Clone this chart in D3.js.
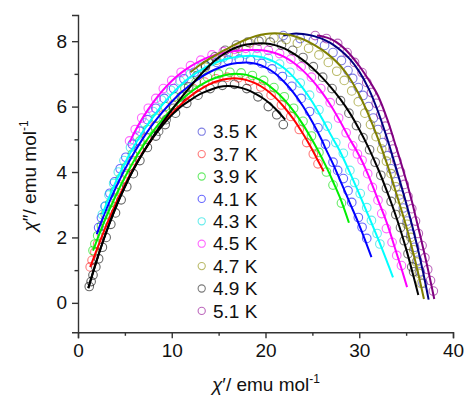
<!DOCTYPE html>
<html><head><meta charset="utf-8">
<script src="https://cdn.jsdelivr.net/npm/d3@7"></script>
<style>body{margin:0;background:#fff}svg{display:block}</style>
</head><body><svg id="c" width="465" height="396"></svg>
<script>
const tempLabels = ["3.5 K","3.7 K","3.9 K","4.1 K","4.3 K","4.5 K","4.7 K","4.9 K","5.1 K"];
const xTicks = [0,10,20,30,40];
const yTicks = [0,2,4,6,8];
const xMinor = [5,15,25,35];
const yMinor = [1,3,5,7];

// data points (chi', chi'')
const circ35 = [[21.9,8.17],[23.7,8.08],[25.1,8.02],[26.3,7.87],[27.2,7.65],[28.1,7.41],[28.8,7.1],[29.3,6.86],[29.9,6.58],[30.4,6.34],[31.0,6.0],[31.5,5.65],[32.0,5.3],[32.5,4.9],[33.0,4.5],[33.4,4.1],[33.9,3.7],[34.3,3.3],[34.7,2.9],[35.1,2.5],[35.5,2.1],[35.9,1.7],[36.2,1.3],[36.5,0.95],[36.8,0.6]];
const circ37 = [[1.3,1.1],[1.5,1.3],[1.8,1.55],[2.1,1.8],[2.5,2.1],[2.9,2.45],[3.4,2.85],[3.9,3.2],[4.5,3.6],[5.1,3.95],[5.8,4.35],[6.5,4.7],[7.3,5.05],[8.2,5.4],[9.1,5.75],[10.1,6.05],[11.2,6.35],[12.3,6.55],[13.5,6.75],[14.7,6.85],[15.9,6.9],[17.1,6.88],[18.3,6.78],[19.5,6.6],[20.6,6.35],[21.7,6.05],[22.7,5.7],[23.6,5.3],[24.4,4.9],[25.1,4.55],[25.6,4.25]];
const circ39 = [[1.6,1.6],[1.8,1.8],[2.1,2.05],[2.5,2.35],[2.9,2.7],[3.4,3.05],[3.9,3.4],[4.5,3.8],[5.1,4.15],[5.8,4.55],[6.6,4.95],[7.4,5.3],[8.3,5.65],[9.3,6.0],[10.3,6.3],[11.4,6.55],[12.6,6.75],[13.8,6.9],[15.0,7.0],[16.2,7.05],[17.4,7.03],[18.6,6.95],[19.8,6.8],[20.9,6.58],[22.0,6.3],[23.0,5.95],[24.0,5.55],[24.9,5.1],[25.7,4.6],[26.5,4.0],[27.2,3.6],[28.1,3.05]];
const circ41 = [[2.2,2.3],[2.5,2.6],[2.9,2.95],[3.4,3.35],[3.9,3.7],[4.5,4.1],[5.1,4.45],[5.8,4.85],[6.6,5.25],[7.4,5.6],[8.3,5.95],[9.2,6.25],[10.2,6.55],[11.3,6.85],[12.4,7.05],[13.6,7.25],[14.8,7.35],[16.0,7.42],[17.2,7.45],[18.4,7.42],[19.6,7.32],[20.7,7.15],[21.8,6.92],[22.8,6.62],[23.8,6.25],[24.7,5.85],[25.6,5.35],[26.4,4.85],[27.2,4.3],[27.7,4.05],[28.3,3.8],[28.8,3.43],[29.2,3.07],[29.9,2.61],[30.3,2.31],[30.8,1.97]];
const circ43 = [[2.6,2.7],[2.9,2.95],[3.3,3.3],[3.8,3.65],[4.3,4.0],[4.9,4.35],[5.6,4.75],[6.3,5.1],[7.1,5.5],[8.0,5.85],[8.9,6.2],[9.9,6.5],[10.9,6.78],[12.0,7.0],[13.1,7.2],[14.3,7.38],[15.5,7.5],[16.7,7.58],[17.9,7.6],[19.1,7.57],[20.3,7.48],[21.5,7.3],[22.6,7.05],[23.7,6.72],[24.7,6.35],[25.7,5.9],[26.6,5.4],[27.5,4.9],[28.3,4.57],[29.0,4.05],[29.5,3.68],[30.1,3.34],[30.8,2.91],[31.3,2.52],[31.9,2.12],[32.2,1.8]];
const circ45 = [[5.5,4.95],[6.1,5.3],[6.8,5.65],[7.5,5.95],[8.3,6.25],[9.1,6.55],[10.0,6.8],[11.0,7.05],[12.0,7.25],[13.1,7.42],[14.3,7.58],[15.5,7.68],[16.7,7.75],[17.9,7.78],[19.1,7.78],[20.3,7.72],[21.5,7.62],[22.7,7.45],[23.8,7.22],[24.9,6.9],[25.9,6.55],[26.9,6.12],[27.8,5.65],[28.6,5.2],[29.3,4.8],[29.8,4.55],[30.3,4.36],[30.9,3.95],[31.4,3.53],[32.0,3.14],[32.4,2.73],[32.9,2.27],[33.5,1.85],[34.0,1.45],[34.5,1.14]];
const circ47 = [[13.6,7.2],[14.8,7.42],[16.0,7.6],[17.1,7.78],[18.3,7.95],[19.6,8.05],[20.9,8.1],[22.2,8.05],[23.4,7.94],[24.6,7.78],[25.7,7.58],[26.7,7.35],[27.6,7.08],[28.4,6.8],[29.2,6.48],[29.9,6.15],[30.6,5.8],[31.2,5.45],[31.8,5.08],[32.4,4.7],[32.9,4.33],[33.4,3.95],[33.9,3.55],[34.3,3.17],[34.7,2.78],[35.1,2.4],[35.5,2.0],[35.8,1.62],[36.1,1.25],[36.4,0.9],[36.6,0.6]];
const circ49 = [[8.6,5.25],[9.4,5.6],[10.2,5.95],[11.0,6.3],[11.8,6.6],[12.7,6.95],[13.6,7.25],[14.6,7.52],[15.7,7.72],[16.9,7.88],[18.1,7.97],[19.3,8.0],[20.5,7.97],[21.7,7.88],[22.9,7.72],[24.0,7.5],[25.1,7.22],[26.1,6.9],[27.1,6.55],[28.0,6.18],[28.9,5.8],[29.7,5.42],[30.4,5.05],[31.1,4.68],[31.7,4.3],[32.3,3.9],[32.9,3.5],[33.4,3.1],[33.9,2.7],[34.4,2.3],[34.8,1.9],[35.2,1.5],[35.6,1.1],[35.8,0.95]];
const circ51 = [[25.3,8.17],[26.5,8.08],[27.7,7.93],[28.7,7.65],[29.5,7.35],[30.3,7.04],[30.8,6.74],[31.3,6.43],[31.8,6.1],[32.3,5.75],[32.8,5.4],[33.2,5.05],[33.6,4.7],[34.0,4.35],[34.4,4.0],[34.8,3.62],[35.2,3.25],[35.6,2.88],[36.0,2.5],[36.3,2.12],[36.7,1.75],[37.0,1.38],[37.3,1.02],[37.6,0.68],[37.9,0.36]];
const circX = [[1.2,0.5],[1.4,0.65],[1.6,0.85],[1.9,1.1],[2.2,1.35],[2.6,1.7],[3.0,2.0],[3.5,2.4],[4.0,2.75],[4.6,3.15],[5.2,3.55],[5.9,3.95],[6.6,4.35],[7.4,4.75],[8.3,5.1],[9.3,5.45],[10.4,5.8],[11.6,6.1],[12.8,6.35],[14.1,6.55],[15.4,6.65],[16.7,6.68],[18.0,6.55],[19.2,6.3],[20.3,6.0],[21.2,5.75],[21.9,5.45]];

// fitted curves
const fit35 = [[21.9,8.17],[23,8.23],[24,8.22],[25,8.17],[26,8.08],[27,7.93],[28,7.72],[29,7.45],[30,7.07],[31,6.55],[32,5.85],[33,5.0],[34,4.05],[35,3.05],[36,1.95],[36.8,0.95],[37.4,0.1]];
const fit37 = [[1.3,1.09],[2,1.62],[3,2.35],[4,3.02],[5,3.62],[6,4.15],[7,4.63],[8,5.06],[9,5.45],[10,5.78],[11,6.07],[12,6.32],[13,6.52],[14,6.68],[15,6.79],[16,6.85],[17,6.86],[18,6.81],[19,6.7],[20,6.53],[21,6.29],[22,5.98],[23,5.61],[24,5.17],[24.8,4.78],[25.5,4.4],[26.2,4.02]];
const fit39 = [[1.6,1.6],[2,1.9],[3,2.62],[4,3.26],[5,3.84],[6,4.36],[7,4.83],[8,5.24],[9,5.6],[10,5.92],[11,6.2],[12,6.44],[13,6.64],[14,6.8],[15,6.91],[16,6.98],[17,7.0],[18,6.97],[19,6.87],[20,6.72],[21,6.49],[22,6.21],[23,5.86],[24,5.45],[25,4.97],[25.6,4.66],[26.5,4.15],[27.2,3.71],[28,3.18],[28.9,2.45]];
const fit41 = [[2,2.1],[3,2.85],[4,3.5],[5,4.08],[6,4.6],[7,5.06],[8,5.47],[9,5.83],[10,6.15],[11,6.43],[12,6.67],[13,6.88],[14,7.05],[15,7.18],[16,7.28],[17,7.33],[18,7.35],[19,7.31],[20,7.2],[21,7.02],[22,6.75],[23,6.42],[24,6.01],[25,5.53],[26,4.98],[26.5,4.66],[27.2,4.25],[28,3.72],[29,3.05],[30,2.38],[31.3,1.4]];
const fit43 = [[2.6,2.7],[3,3.0],[4,3.68],[5,4.27],[6,4.8],[7,5.27],[8,5.68],[9,6.05],[10,6.38],[11,6.67],[12,6.91],[13,7.1],[14,7.26],[15,7.38],[16,7.47],[17,7.52],[18,7.55],[19,7.54],[20,7.48],[21,7.36],[22,7.17],[23,6.9],[24,6.56],[25,6.14],[26,5.65],[27,5.12],[27.9,4.66],[29,3.98],[30,3.33],[31,2.65],[32,1.96],[33,1.23],[33.6,0.78]];
const fit45 = [[5.5,4.9],[6,5.2],[7,5.7],[8,6.12],[9,6.48],[10,6.78],[11,7.03],[12,7.23],[13,7.39],[14,7.52],[15,7.61],[16,7.67],[17,7.71],[18,7.73],[19,7.73],[20,7.71],[21,7.64],[22,7.52],[23,7.34],[24,7.1],[25,6.8],[26,6.44],[27,6.02],[28,5.53],[29,5.0],[29.7,4.66],[30.3,4.33],[31,3.88],[32,3.15],[33,2.4],[34,1.5],[34.5,1.05],[35.1,0.48]];
const fit47 = [[12,7.05],[13,7.27],[14,7.46],[15,7.63],[16,7.78],[17,7.93],[18,8.06],[19,8.16],[20,8.22],[21,8.24],[22,8.22],[23,8.16],[24,8.06],[25,7.92],[26,7.74],[27,7.52],[28,7.24],[29,6.86],[30,6.36],[31,5.74],[32,5.02],[33,4.22],[34,3.3],[35,2.35],[36,1.25],[36.9,0.12]];
const fit49 = [[1.1,0.45],[2,1.3],[3,2.15],[4,2.9],[5,3.55],[6,4.12],[7,4.62],[8,5.08],[9,5.5],[10,5.9],[11,6.27],[12,6.62],[13,6.95],[14,7.25],[15,7.5],[16,7.69],[17,7.82],[18,7.9],[19,7.93],[20,7.93],[21,7.88],[22,7.78],[23,7.62],[24,7.42],[25,7.18],[26,6.9],[27,6.58],[28,6.22],[29,5.8],[30,5.3],[31,4.74],[32,4.1],[33,3.38],[34,2.58],[35,1.65],[35.8,0.8],[36.3,0.24]];
const fit51 = [[25.5,8.17],[26,8.15],[27,8.06],[28,7.88],[29,7.6],[30,7.24],[31,6.82],[32,6.33],[33,5.6],[34,4.7],[35,3.75],[35.6,3.12],[36,2.65],[37,1.45],[37.5,0.8],[38,0.12]];
const fitX = [[1.1,0.45],[2,1.3],[3,2.15],[4,2.9],[5,3.55],[6,4.12],[7,4.62],[8,5.05],[9,5.42],[10,5.74],[11,6.0],[12,6.2],[13,6.38],[14,6.5],[15,6.6],[16,6.63],[17,6.6],[18,6.52],[19,6.38],[20,6.2],[21,5.95],[22.1,5.6]];

const lineColors = ["#000080","#ff0000","#00ee00","#0000ff","#00ffff","#ff00ff","#808000","#000000","#800080"];
const circColors = ["#2a2ad0","#ff2020","#00dd00","#0000ff","#00e0e0","#ff00ff","#8a8a00","#202020","#900090"];

const series = [
  {label: tempLabels[0], pts: circ35, fit: fit35, lc: lineColors[0], cc: circColors[0], legend: true},
  {label: tempLabels[1], pts: circ37, fit: fit37, lc: lineColors[1], cc: circColors[1], legend: true},
  {label: tempLabels[2], pts: circ39, fit: fit39, lc: lineColors[2], cc: circColors[2], legend: true},
  {label: tempLabels[3], pts: circ41, fit: fit41, lc: lineColors[3], cc: circColors[3], legend: true},
  {label: tempLabels[4], pts: circ43, fit: fit43, lc: lineColors[4], cc: circColors[4], legend: true},
  {label: tempLabels[5], pts: circ45, fit: fit45, lc: lineColors[5], cc: circColors[5], legend: true},
  {label: tempLabels[6], pts: circ47, fit: fit47, lc: lineColors[6], cc: circColors[6], legend: true},
  {label: tempLabels[7], pts: circ49, fit: fit49, lc: lineColors[7], cc: circColors[7], legend: true},
  {label: tempLabels[8], pts: circ51, fit: fit51, lc: lineColors[8], cc: circColors[8], legend: true},
  {label: "", pts: circX, fit: fitX, lc: "#000000", cc: "#000000", legend: false}
];

const svg = d3.select("#c");
const font = "'Liberation Sans', Arial, sans-serif";
const x = d3.scaleLinear().domain([0,40]).range([78,453]);
const y = d3.scaleLinear().domain([-0.9,8.8]).range([332.3,15]);

// circles
const gC = svg.append("g");
series.forEach(s => {
  gC.selectAll(null).data(s.pts).enter().append("circle")
    .attr("cx", d => x(d[0])).attr("cy", d => y(d[1])).attr("r", 4.3)
    .attr("fill","none").attr("stroke", s.cc).attr("stroke-opacity",0.6).attr("stroke-width",1.1);
});
// lines
const line = d3.line().x(d => x(d[0])).y(d => y(d[1])).curve(d3.curveCatmullRom);
series.forEach(s => {
  svg.append("path").attr("d", line(s.fit)).attr("fill","none")
    .attr("stroke", s.lc).attr("stroke-width",2);
});

// axes
const axColor = "#333";
const xAxis = svg.append("g").attr("transform","translate(0,332.3)")
  .call(d3.axisBottom(x).tickValues(xTicks).tickSize(6).tickPadding(5).tickFormat(d3.format("d")));
const xAxisMinor = svg.append("g").attr("transform","translate(0,332.3)")
  .call(d3.axisBottom(x).tickValues(xMinor).tickSize(3.5).tickFormat(""));
const yAxis = svg.append("g").attr("transform","translate(78,0)")
  .call(d3.axisLeft(y).tickValues(yTicks).tickSize(6).tickPadding(5).tickFormat(d3.format("d")));
const yAxisMinor = svg.append("g").attr("transform","translate(78,0)")
  .call(d3.axisLeft(y).tickValues(yMinor).tickSize(3.5).tickFormat(""));
[xAxis,xAxisMinor,yAxis,yAxisMinor].forEach(g => {
  g.selectAll("path.domain").attr("stroke",axColor).attr("stroke-width",1.4);
  g.selectAll(".tick line").attr("stroke",axColor).attr("stroke-width",1.4);
  g.selectAll(".tick text").attr("fill","#111").style("font-family",font).style("font-size","19px");
});
xAxisMinor.select("path.domain").remove();
yAxisMinor.select("path.domain").remove();

// axis titles
const xt = svg.append("text").attr("x",266).attr("y",391).attr("text-anchor","middle")
  .style("font-family",font).style("font-size","19px").attr("fill","#111");
xt.append("tspan").style("font-style","italic").text("χ");
xt.append("tspan").text("′/ emu mol");
xt.append("tspan").attr("dy",-8).style("font-size","12px").text("-1");

const yt = svg.append("text").attr("transform","translate(36,176) rotate(-90)").attr("text-anchor","middle")
  .style("font-family",font).style("font-size","19px").attr("fill","#111");
yt.append("tspan").style("font-style","italic").text("χ");
yt.append("tspan").text("″/ emu mol");
yt.append("tspan").attr("dy",-8).style("font-size","12px").text("-1");

// legend
const lg = svg.append("g");
series.filter(s => s.legend).forEach((s,i) => {
  const yy = 131.7 + i*22.4;
  lg.append("circle").attr("cx",201.7).attr("cy",yy).attr("r",3.6)
    .attr("fill","none").attr("stroke",s.cc).attr("stroke-opacity",0.6).attr("stroke-width",1.1);
  lg.append("text").attr("x",213).attr("y",yy+6.6).text(s.label)
    .style("font-family",font).style("font-size","19px").attr("fill","#111");
});
</script></body></html>
